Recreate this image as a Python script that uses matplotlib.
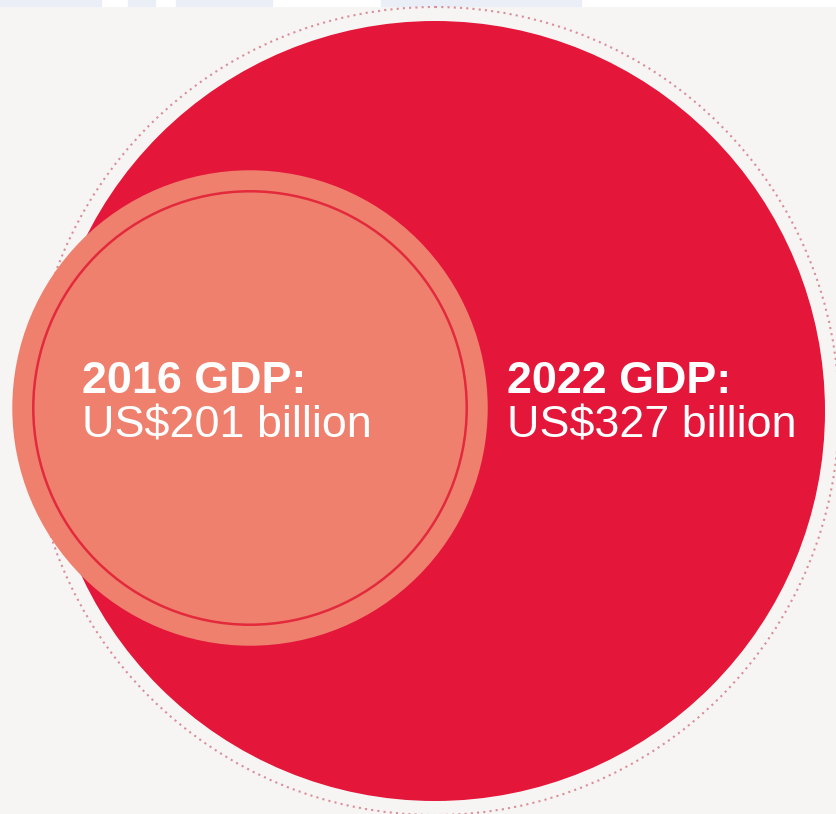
import matplotlib
matplotlib.use('Agg')
import matplotlib.pyplot as plt
from matplotlib.patches import Circle, Rectangle

# GDP values (US$ billion)
years = ['2016', '2022']
gdp = [201, 327]
labels = [f"{y} GDP:" for y in years]
values = [f"US${v} billion" for v in gdp]

W, H = 836, 814
px_per_bn = 390 / 327  # radius proportional to value

fig = plt.figure(figsize=(W / 100, H / 100), dpi=100)
fig.patch.set_facecolor('#f6f5f3')
ax = fig.add_axes([0, 0, 1, 1])
ax.set_xlim(0, W)
ax.set_ylim(H, 0)
ax.set_aspect('equal')
ax.axis('off')

# pale strip at top (cropped from page)
ax.add_patch(Rectangle((0, 0), W, 6, color='white', zorder=1))
for x0, x1 in [(0, 101), (128, 155), (176, 272), (381, 581)]:
    ax.add_patch(Rectangle((x0, 0), x1 - x0, 6, color='#e9eef7', zorder=2))

# 2022 big circle
r_big = gdp[1] * px_per_bn
cx_big, cy_big = 435, 411
ax.add_patch(Circle((cx_big, cy_big), r_big + 14, fill=False, ec='#d98e9a',
                    lw=1.5, ls=(0, (1, 2)), zorder=2))
ax.add_patch(Circle((cx_big, cy_big), r_big, color='#e4163a', lw=0, zorder=3))

# 2016 small circle
r_small = gdp[0] * px_per_bn
cx_s, cy_s = 250, 408
ax.add_patch(Circle((cx_s, cy_s), r_small - 2, color='#f0806e', lw=0, zorder=4))
ax.add_patch(Circle((cx_s, cy_s), r_small - 23, fill=False, ec='#e22a3c',
                    lw=1.8, zorder=5))

font = 'Liberation Sans'
for (x, y), lab, val in [((82, 393), labels[0], values[0]),
                         ((507, 393), labels[1], values[1])]:
    ax.text(x, y, lab, color='white', fontsize=32.3, fontweight='bold',
            family=font, va='baseline', ha='left', zorder=6)
    ax.text(x, y + 44, val, color='white', fontsize=32.3,
            family=font, va='baseline', ha='left', zorder=6)

fig.savefig('out.png', dpi=100, facecolor=fig.get_facecolor())
